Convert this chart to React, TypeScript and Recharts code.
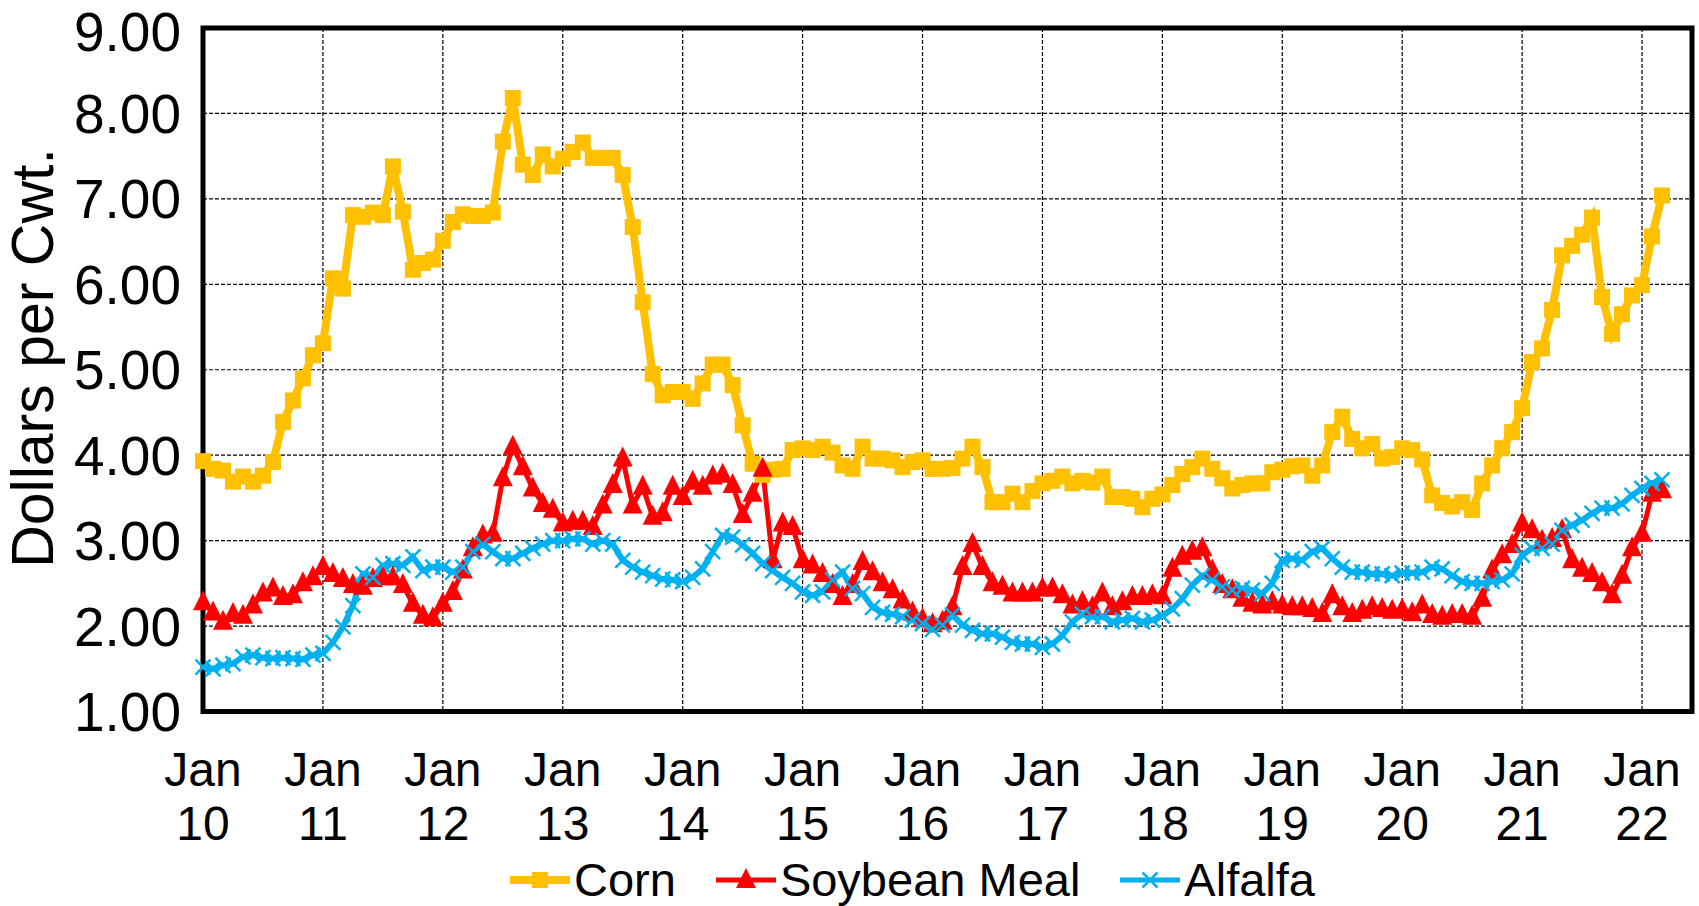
import { LineChart, Line, XAxis, YAxis, CartesianGrid, ReferenceArea, Label } from "recharts";

const yearLabels = ["10", "11", "12", "13", "14", "15", "16", "17", "18", "19", "20", "21", "22"];
const yTicks = [1, 2, 3, 4, 5, 6, 7, 8, 9];

// monthly prices, Jan 2010 .. Mar 2022
const corn = [
  3.93, 3.84, 3.82, 3.69, 3.75, 3.69, 3.76, 3.92, 4.39, 4.64, 4.9, 5.17,
  5.31, 6.07, 5.95, 6.81, 6.79, 6.84, 6.81, 7.38, 6.85, 6.17, 6.25, 6.29,
  6.51, 6.73, 6.82, 6.8, 6.8, 6.84, 7.67, 8.18, 7.4, 7.28, 7.52, 7.38,
  7.47, 7.55, 7.66, 7.48, 7.48, 7.48, 7.28, 6.67, 5.79, 4.95, 4.7, 4.74,
  4.74, 4.66, 4.84, 5.06, 5.06, 4.82, 4.35, 3.9, 3.77, 3.83, 3.84, 4.06,
  4.08, 4.06, 4.1, 4.03, 3.88, 3.84, 4.1, 3.96, 3.96, 3.94, 3.86, 3.92,
  3.94, 3.84, 3.84, 3.85, 3.96, 4.1, 3.86, 3.45, 3.45, 3.55, 3.45, 3.58,
  3.67, 3.7, 3.75, 3.67, 3.7, 3.68, 3.75, 3.51, 3.51, 3.49, 3.39, 3.49,
  3.54, 3.65, 3.78, 3.86, 3.96, 3.84, 3.73, 3.61, 3.65, 3.67, 3.67, 3.8,
  3.83, 3.87, 3.88, 3.76, 3.88, 4.27, 4.45, 4.19, 4.08, 4.13, 3.96, 3.98,
  4.08, 4.06, 3.95, 3.53, 3.44, 3.4, 3.45, 3.36, 3.67, 3.88, 4.08, 4.27,
  4.55, 5.09, 5.25, 5.7, 6.34, 6.45, 6.58, 6.78, 5.85, 5.42, 5.65, 5.87,
  5.99, 6.56, 7.04,
];

const soybeanMeal = [
  2.28, 2.16, 2.05, 2.14, 2.12, 2.24, 2.38, 2.44, 2.34, 2.36, 2.5, 2.57,
  2.69, 2.61, 2.55, 2.48, 2.46, 2.55, 2.57, 2.57, 2.48, 2.26, 2.12, 2.09,
  2.26, 2.4, 2.65, 2.91, 3.06, 3.08, 3.73, 4.1, 3.86, 3.61, 3.43, 3.36,
  3.2, 3.22, 3.22, 3.16, 3.41, 3.65, 3.96, 3.41, 3.63, 3.28, 3.32, 3.63,
  3.51, 3.69, 3.63, 3.75, 3.77, 3.65, 3.3, 3.55, 3.84, 2.77, 3.2, 3.16,
  2.77, 2.71, 2.61, 2.48, 2.34, 2.48, 2.75, 2.63, 2.5, 2.42, 2.3, 2.16,
  2.08, 2.02, 2.05, 2.22, 2.69, 2.96, 2.69, 2.5, 2.46, 2.38, 2.38, 2.38,
  2.44, 2.44, 2.36, 2.24, 2.28, 2.22, 2.38, 2.22, 2.28, 2.34, 2.34, 2.36,
  2.35, 2.67, 2.81, 2.87, 2.91, 2.65, 2.48, 2.42, 2.32, 2.26, 2.24, 2.28,
  2.24, 2.22, 2.22, 2.2, 2.14, 2.36, 2.22, 2.14, 2.18, 2.22, 2.2, 2.18,
  2.19, 2.15, 2.24, 2.13, 2.11, 2.13, 2.13, 2.11, 2.32, 2.65, 2.83, 2.95,
  3.2, 3.12, 3.0, 3.02, 3.12, 2.77, 2.67, 2.61, 2.5, 2.36, 2.59, 2.91,
  3.08, 3.55, 3.59,
];

const alfalfa = [
  1.52, 1.5, 1.54, 1.56, 1.64, 1.66, 1.63, 1.62, 1.63, 1.62, 1.61, 1.66,
  1.68, 1.81, 1.99, 2.24, 2.61, 2.57, 2.71, 2.73, 2.71, 2.81, 2.65, 2.69,
  2.69, 2.63, 2.69, 2.87, 2.96, 2.87, 2.79, 2.79, 2.85, 2.91, 2.96, 3.0,
  3.0, 3.02, 3.02, 2.96, 3.0, 2.96, 2.77, 2.69, 2.63, 2.59, 2.55, 2.54,
  2.52, 2.57, 2.67, 2.87, 3.06, 3.04, 2.95, 2.85, 2.73, 2.65, 2.57, 2.5,
  2.4, 2.36, 2.4, 2.54, 2.63, 2.44, 2.38, 2.22, 2.16, 2.14, 2.11, 2.07,
  2.03, 1.96, 2.01, 2.13, 2.01, 1.95, 1.91, 1.91, 1.87, 1.81, 1.79, 1.79,
  1.75, 1.79, 1.89, 2.05, 2.14, 2.11, 2.11, 2.05, 2.07, 2.09, 2.05, 2.07,
  2.12, 2.2, 2.32, 2.48, 2.59, 2.54, 2.46, 2.42, 2.44, 2.42, 2.38, 2.5,
  2.77, 2.79, 2.77, 2.87, 2.91, 2.79, 2.69, 2.63, 2.63, 2.61, 2.61, 2.59,
  2.62, 2.62, 2.63, 2.69, 2.67, 2.59, 2.52, 2.5, 2.5, 2.52, 2.54, 2.61,
  2.83, 2.91, 2.91, 2.96, 3.12, 3.18, 3.24, 3.32, 3.38, 3.38, 3.43, 3.53,
  3.61, 3.67, 3.71,
];

const data = corn.map((c, i) => ({
  month: i,
  corn: c,
  soybeanMeal: soybeanMeal[i],
  alfalfa: alfalfa[i],
}));
const janTicks = yearLabels.map((_, i) => i * 12);

const FONT = "'Liberation Sans', Arial, sans-serif";
const CORN = "#FFC000";
const SOY = "#FF0000";
const ALF = "#00B0F0";

const square = (cx: number, cy: number, key?: any) => (
  <rect key={key} x={cx - 8} y={cy - 8} width={16} height={16} fill={CORN} />
);
const triangle = (cx: number, cy: number, key?: any) => (
  <polygon
    key={key}
    points={`${cx},${cy - 12} ${cx - 10},${cy + 8} ${cx + 10},${cy + 8}`}
    fill={SOY}
  />
);
const cross = (cx: number, cy: number, key?: any) => (
  <g key={key} stroke={ALF} strokeWidth={2.5}>
    <line x1={cx - 7.5} y1={cy - 7.5} x2={cx + 7.5} y2={cy + 7.5} />
    <line x1={cx - 7.5} y1={cy + 7.5} x2={cx + 7.5} y2={cy - 7.5} />
  </g>
);

function JanTick(props: any) {
  const { x, y, payload } = props;
  return (
    <text x={x} y={y} textAnchor="middle" fontFamily={FONT} fontSize={48} fill="#000">
      <tspan x={x} dy={66}>Jan</tspan>
      <tspan x={x} dy={54}>{yearLabels[payload.value / 12]}</tspan>
    </text>
  );
}

function LegendItem({ label, color, marker }: { label: string; color: string; marker: (x: number, y: number) => any }) {
  return (
    <div style={{ display: "flex", alignItems: "center" }}>
      <svg width={60} height={30}>
        <line x1={0} y1={15} x2={60} y2={15} stroke={color} strokeWidth={color === CORN ? 8 : 5} />
        {marker(30, 15)}
      </svg>
      <span style={{ fontFamily: FONT, fontSize: 47, marginLeft: 4 }}>{label}</span>
    </div>
  );
}

export default function App() {
  return (
    <div style={{ position: "absolute", left: 0, top: 0, width: 1699, height: 906, background: "#fff" }}>
      <LineChart width={1699} height={906} data={data} margin={{ top: 28, right: 7, bottom: 0, left: 0 }}>
        <CartesianGrid stroke="#000" strokeDasharray="4 2" strokeWidth={1.2} />
        <XAxis
          dataKey="month"
          type="number"
          domain={[0, 149]}
          ticks={janTicks}
          interval={0}
          height={194.5}
          axisLine={false}
          tickLine={false}
          tick={<JanTick />}
        />
        <YAxis
          domain={[1, 9]}
          ticks={yTicks}
          width={203}
          axisLine={false}
          tickLine={false}
          tickSize={0}
          tickMargin={22}
          tickFormatter={(v: number) => v.toFixed(2)}
          tick={{ fontFamily: FONT, fontSize: 55, fill: "#000" }}
        >
          <Label
            content={() => (
              <text
                x={33}
                y={358}
                transform="rotate(-90, 33, 358)"
                textAnchor="middle"
                dominantBaseline="central"
                fontFamily={FONT}
                fontSize={59}
                fill="#000"
              >
                Dollars per Cwt.
              </text>
            )}
          />
        </YAxis>
        <ReferenceArea x1={0} x2={149} y1={1} y2={9} fill="none" stroke="#000" strokeWidth={5} />
        <Line
          dataKey="corn"
          stroke={CORN}
          strokeWidth={8}
          isAnimationActive={false}
          dot={(p: any) => square(p.cx, p.cy, p.index)}
          activeDot={false}
        />
        <Line
          dataKey="soybeanMeal"
          stroke={SOY}
          strokeWidth={5}
          isAnimationActive={false}
          dot={(p: any) => triangle(p.cx, p.cy, p.index)}
          activeDot={false}
        />
        <Line
          dataKey="alfalfa"
          stroke={ALF}
          strokeWidth={6}
          isAnimationActive={false}
          dot={(p: any) => cross(p.cx, p.cy, p.index)}
          activeDot={false}
        />
      </LineChart>
      <div
        style={{
          position: "absolute",
          left: 0,
          top: 852,
          width: 1699,
          boxSizing: "border-box",
          paddingLeft: 126,
          display: "flex",
          justifyContent: "center",
          gap: 40,
        }}
      >
        <LegendItem label="Corn" color={CORN} marker={square} />
        <LegendItem label="Soybean Meal" color={SOY} marker={triangle} />
        <LegendItem label="Alfalfa" color={ALF} marker={cross} />
      </div>
    </div>
  );
}
